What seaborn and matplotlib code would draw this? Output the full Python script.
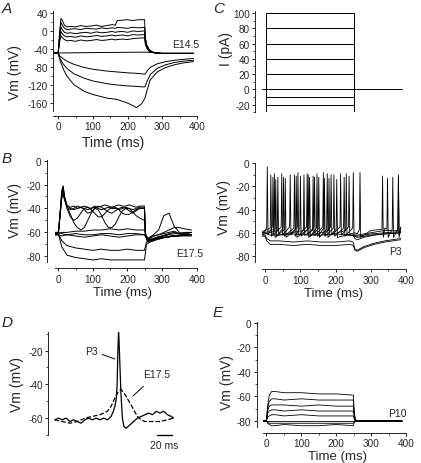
import numpy as np
import pandas as pd
import matplotlib
matplotlib.use('Agg')
import matplotlib.pyplot as plt
import seaborn as sns
from matplotlib.ticker import MultipleLocator

sns.set_style('ticks')
plt.rcParams['font.family'] = ['Liberation Sans', 'DejaVu Sans']
plt.rcParams['axes.unicode_minus'] = False

# ---------------- data ----------------
# A: E14.5, depolarising steps
a_dep_t = [-15, 0, 4, 8, 12, 18, 25, 35, 50, 65, 80, 95, 110, 125, 140, 155, 165, 170, 185, 200,
           215, 230, 249, 251, 255, 262, 270, 282, 300, 340, 390]
a_dep1 = [-50, -50, -5, 27, 22, 12, 8, 9, 8, 11, 9, 10, 12, 9, 11, 13, 12, 22, 23, 24,
          22, 24, 24, -15, -32, -42, -47, -50, -51, -51, -51]
a_dep2 = [-50, -50, -10, 18, 12, 5, 2, 3, 4, 2, 5, 4, 3, 6, 4, 6, 5, 7, 6, 5,
          7, 6, 7, -18, -33, -43, -47, -50, -51, -51, -51]
a_dep3 = [-50, -50, -15, 8, 2, -4, -6, -5, -7, -5, -4, -6, -3, -5, -4, -2, -4, -3, -2, -4,
          -1, -2, -1, -22, -35, -44, -48, -50, -51, -51, -51]
a_dep4 = [-50, -50, -20, -2, -8, -12, -14, -13, -15, -12, -14, -13, -11, -13, -12, -10, -12, -11, -10, -12,
          -9, -10, -9, -26, -37, -45, -48, -50, -51, -51, -51]
a_dep5 = [-50, -50, -25, -12, -16, -20, -23, -22, -24, -21, -23, -22, -20, -22, -21, -19, -21, -20, -19, -20,
          -18, -17, -16, -30, -39, -46, -49, -50, -51, -51, -51]
a_flat_t = [-15, 100, 250, 300, 390]
a_flat = [-50, -49, -48, -50, -50]
# A: hyperpolarising steps
a_hyp_t = [-15, 0, 5, 15, 25, 45, 75, 100, 140, 170, 200, 226, 240, 250, 256, 265, 285, 310, 335, 360, 390]
a_hyp1 = [-50, -50, -57, -63, -68, -75, -82, -86, -90, -92, -94, -95, -96, -97, -90, -82, -74, -69, -66, -64, -62]
a_hyp2 = [-50, -50, -62, -75, -84, -96, -106, -112, -118, -121, -123, -124, -125, -125, -113, -98, -84, -76, -71, -68, -66]
a_hyp3 = [-50, -50, -66, -86, -101, -120, -135, -142, -150, -153, -161, -171, -163, -150, -133, -110, -92, -82, -76, -72, -69]

# B: E17.5, suprathreshold traces
b_dep_t = [-10, 0, 5, 10, 14, 18, 25, 35, 45, 55, 65, 75, 85, 95, 105, 115, 125, 135, 145, 155,
           165, 175, 185, 195, 205, 215, 225, 235, 249, 252, 258, 265, 275, 290, 305, 320, 335, 350, 365, 385]
b_dep1 = [-61, -61, -45, -25, -21, -30, -37, -40, -41, -40, -39, -40, -41, -40, -39, -40, -41, -40, -39, -40,
          -40, -41, -40, -39, -40, -41, -40, -39, -39, -62, -67, -66, -65, -64, -63, -62, -63, -62, -61, -62]
b_dep2 = [-62, -62, -46, -28, -22, -30, -38, -45, -52, -56, -58, -56, -50, -44, -40, -41, -46, -52, -56, -56,
          -53, -47, -42, -40, -40, -43, -46, -48, -50, -63, -66, -64, -62, -58, -46, -44, -55, -60, -62, -62]
b_dep3 = [-60, -60, -44, -27, -23, -31, -40, -47, -50, -48, -44, -40, -39, -41, -44, -47, -47, -44, -41, -39,
          -39, -41, -44, -45, -45, -43, -41, -40, -40, -62, -66, -65, -63, -62, -60, -58, -56, -56, -57, -58]
b_dep4 = [-62, -62, -46, -30, -25, -32, -39, -41, -40, -38, -39, -41, -44, -43, -40, -38, -39, -41, -43, -44,
          -42, -40, -39, -40, -42, -44, -42, -40, -40, -63, -68, -67, -66, -64, -63, -61, -60, -61, -62, -60]
b_dep5 = [-61, -61, -47, -32, -28, -33, -38, -39, -38, -40, -39, -38, -39, -40, -38, -39, -38, -37, -38, -39,
          -38, -37, -38, -38, -37, -38, -39, -38, -38, -62, -66, -64, -63, -62, -61, -60, -59, -61, -60, -60]
# B: subthreshold / hyperpolarising traces
b_sub_t = [-10, 0, 10, 25, 50, 75, 100, 125, 150, 175, 200, 225, 249, 255, 265, 285, 310, 340, 385]
b_sub1 = [-61, -61, -60, -60, -59, -59, -58, -58, -57, -58, -57, -58, -58, -63, -66, -64, -62, -61, -60]
b_sub2 = [-60, -60, -61, -62, -61, -62, -62, -61, -61, -62, -61, -61, -62, -65, -68, -66, -64, -63, -62]
b_sub3 = [-62, -62, -63, -62, -63, -64, -63, -62, -63, -64, -63, -62, -62, -64, -67, -65, -64, -63, -62]
b_hyp1 = [-61, -61, -67, -71, -73, -74, -75, -74, -75, -75, -74, -75, -75, -68, -67, -65, -64, -63, -62]
b_hyp2 = [-61, -61, -72, -79, -81, -82, -83, -82, -83, -83, -83, -83, -83, -70, -68, -66, -64, -63, -63]

# C: current steps (pA)
c_levels = [100, 80, 60, 40, 20, -10, -20, -30]
c_on, c_off = 0, 250
c_zero_t = [-11, 387]

# C lower: P3, spiking traces (spike times, peak voltages) + envelope
p_s1_times = [6, 22, 47, 71, 93, 119, 140, 165, 187, 214, 238]
p_s1_peaks = [-3, -12, -9, -10, -8, -9, -12, -8, -10, -9, -11]
p_s2_times = [16, 30, 52, 83, 100, 126, 147, 168, 195, 224, 250]
p_s2_peaks = [-10, -14, -12, -10, -11, -12, -9, -13, -10, -12, -8]
p_s3_times = [26, 57, 88, 122, 152, 176, 203, 269, 333, 347, 362, 378]
p_s3_peaks = [-9, -13, -11, -10, -12, -9, -14, -8, -11, -13, -12, -11]
p_s4_times = [36, 110, 136, 181, 230, 378]
p_s4_peaks = [-12, -10, -11, -13, -9, -10]
p_pre_t = [-9, 0]
p_post_t = [255, 262, 300, 340, 385]
p_s1_pre, p_s1_post = [-60, -59], [-63, -64, -62, -61, -60]
p_s2_pre, p_s2_post = [-59, -58], [-62, -63, -61, -60, -59]
p_s3_pre, p_s3_post = [-61, -60], [-60, -61, -58, -56, -55]
p_s4_pre, p_s4_post = [-62, -61], [-62, -62, -60, -58, -56]
p_sub_t = [-9, 0, 5, 15, 40, 80, 120, 160, 200, 240, 250, 255, 262, 280, 310, 340, 385]
p_sub1 = [-62, -62, -65, -67, -67, -68, -67, -68, -68, -67, -68, -74, -75, -72, -69, -67, -65]
p_sub2 = [-63, -63, -67, -70, -70, -71, -70, -71, -71, -70, -71, -75, -76, -73, -70, -68, -66]
p_sub3 = [-60, -60, -61, -62, -62, -61, -62, -62, -61, -62, -62, -65, -66, -64, -62, -61, -60]

# D: single events
d_p3_t = [0, 5, 10, 15, 20, 25, 30, 35, 40, 45, 50, 55, 60, 65, 70, 75, 78, 80, 82, 83,
          84, 85, 86, 88, 90, 92, 95, 100, 105, 110, 115, 120, 125, 130, 135, 140, 145, 150, 155, 158]
d_p3_v = [-61, -60, -61, -60, -62, -61, -62, -63, -61, -60, -61, -60, -61, -60, -61, -59, -56, -53, -48, -40,
          -20, -8, -20, -45, -60, -65, -66, -64, -62, -60, -59, -58, -57, -58, -56, -57, -56, -58, -59, -60]
d_e17_t = [0, 10, 20, 30, 40, 50, 60, 70, 75, 80, 85, 88, 92, 96, 100, 105, 110, 115, 120, 130, 140, 150, 158]
d_e17_v = [-61, -62, -63, -62, -60, -59, -58, -56, -53, -48, -44, -43, -45, -48, -51, -55, -59, -61, -62, -62, -62, -61, -60]

# E: P10
e_t = [-10, 0, 3, 8, 15, 25, 50, 100, 150, 200, 249, 251, 254, 258, 265, 300, 388]
e_1 = [-80, -80, -68, -59, -56, -56, -57, -57, -58, -58, -59, -70, -78, -80, -80, -80, -80]
e_2 = [-80, -80, -70, -64, -62, -62, -63, -62, -63, -63, -63, -72, -79, -80, -80, -80, -80]
e_3 = [-80, -80, -72, -68, -67, -67, -67, -68, -67, -68, -68, -74, -79, -80, -80, -80, -80]
e_4 = [-80, -80, -74, -72, -71, -71, -72, -71, -72, -72, -72, -76, -79, -80, -80, -80, -80]
e_5 = [-80, -80, -77, -76, -75, -75, -76, -75, -76, -76, -76, -78, -80, -80, -80, -80, -80]
e_6 = [-80, -80, -81, -82, -82, -82, -82, -82, -82, -82, -82, -81, -80, -80, -80, -80, -80]
e_7 = [-80, -80, -82, -83, -84, -84, -83, -84, -84, -83, -84, -82, -80, -80, -80, -80, -80]
e_8 = [-80, -80, -80, -80, -80, -80, -80, -80, -80, -80, -80, -80, -80, -80, -80, -80, -80]


# ---------------- helpers ----------------
W, H = 421, 464
fig = plt.figure(figsize=(W / 100, H / 100), dpi=100)


def px_axes(left, top, right, bottom):
    return fig.add_axes([left / W, 1 - bottom / H, (right - left) / W, (bottom - top) / H])


def long_df(groups):
    # groups: list of (t, [series, ...])
    frames = []
    n = 0
    for t, series in groups:
        for v in series:
            frames.append(pd.DataFrame({'t': t, 'v': v, 'trace': n}))
            n += 1
    return pd.concat(frames, ignore_index=True)


def spike_path(pre_v, times, peaks, post_v, thr, ahp):
    t, v = list(p_pre_t), list(pre_v)
    for ts, pk in zip(times, peaks):
        t += [ts - 1.2, ts + 0.5, ts + 2.5]
        v += [thr, pk, ahp]
    t += list(p_post_t)
    v += list(post_v)
    order = np.argsort(t, kind='stable')
    return list(np.array(t)[order]), list(np.array(v)[order])


def draw(ax, df, lw=0.7, **kw):
    sns.lineplot(data=df, x='t', y='v', units='trace', estimator=None, sort=False,
                 color='black', lw=lw, legend=False, ax=ax, **kw)


def style(ax, xlim, ylim, ymaj, ymin, show_x=True, left_out=0, bottom_out=0):
    ax.set_xlim(*xlim)
    ax.set_ylim(*ylim)
    sns.despine(ax=ax)
    ax.yaxis.set_major_locator(MultipleLocator(ymaj))
    ax.yaxis.set_minor_locator(MultipleLocator(ymin))
    ax.tick_params(which='major', length=2.3, width=0.7, labelsize=7.2)
    ax.tick_params(axis='y', which='major', pad=1.5)
    ax.tick_params(axis='x', which='major', pad=1.8)
    ax.tick_params(which='minor', length=1.4, width=0.6)
    ax.spines['left'].set_linewidth(0.7)
    ax.spines['bottom'].set_linewidth(0.7)
    if left_out:
        ax.spines['left'].set_position(('outward', left_out * 0.72))
    if show_x:
        ax.xaxis.set_major_locator(MultipleLocator(100))
        ax.xaxis.set_minor_locator(MultipleLocator(50))
        if bottom_out:
            ax.spines['bottom'].set_position(('outward', bottom_out * 0.72))
    else:
        ax.spines['bottom'].set_visible(False)
        ax.set_xticks([])
        ax.xaxis.set_minor_locator(plt.NullLocator())
    ax.set_xlabel('')
    ax.set_ylabel('')
    ax.patch.set_alpha(0)


def ftext(x, y, s, **kw):
    fig.text(x / W, 1 - y / H, s, **kw)


def ylab(x, y, s):
    ftext(x, y, s, rotation=90, ha='center', va='center', fontsize=10)


def xlab(x, y, s, size=10):
    ftext(x, y, s, ha='center', va='center', fontsize=size)


def letter(x, y, s):
    ftext(x, y, s, ha='left', va='center', fontsize=11, style='italic')


# ---------------- panel A ----------------
axA = px_axes(53, 11.7, 197, 111.7)
draw(axA, long_df([(a_dep_t, [a_dep1, a_dep2, a_dep3, a_dep4, a_dep5]),
                   (a_flat_t, [a_flat]),
                   (a_hyp_t, [a_hyp1, a_hyp2, a_hyp3])]))
style(axA, (-15, 400), (-178, 44), 40, 20, bottom_out=5)
axA.text(329, -29, 'E14.5', fontsize=7.5, va='center', ha='left')
letter(2, 9, 'A')
ylab(15, 73, 'Vm (mV)')
xlab(113, 143.5, 'Time (ms)')

# ---------------- panel B ----------------
axB = px_axes(55, 161, 196.7, 263.3)
draw(axB, long_df([(b_dep_t, [b_dep1, b_dep2, b_dep3, b_dep4, b_dep5]),
                   (b_sub_t, [b_sub1, b_sub2, b_sub3, b_hyp1, b_hyp2])]))
style(axB, (-9.5, 400), (-85, 0.5), 20, 10, left_out=8.3, bottom_out=5.7)
axB.text(340, -77, 'E17.5', fontsize=7.5, va='center', ha='left')
letter(2, 159, 'B')
ylab(15, 211, 'Vm (mV)')
xlab(122, 293, 'Time (ms)', 9.5)

# ---------------- panel C (current) ----------------
axC = px_axes(255, 11.7, 410, 113.3)
c_groups = [([c_on, c_on, c_off, c_off], [[0, lv, lv, 0]]) for lv in c_levels]
c_groups.append((c_zero_t, [[0, 0]]))
draw(axC, long_df(c_groups))
style(axC, (-31, 409), (-30, 103), 20, 10, show_x=False)
letter(213, 9, 'C')
ylab(226, 49, 'I (pA)')

# ---------------- panel C lower (P3) ----------------
axP = px_axes(261.7, 163.7, 406, 263.3)
s1 = spike_path(p_s1_pre, p_s1_times, p_s1_peaks, p_s1_post, -55, -62)
s2 = spike_path(p_s2_pre, p_s2_times, p_s2_peaks, p_s2_post, -56, -63)
s3 = spike_path(p_s3_pre, p_s3_times, p_s3_peaks, p_s3_post, -57, -64)
s4 = spike_path(p_s4_pre, p_s4_times, p_s4_peaks, p_s4_post, -58, -62)
draw(axP, long_df([(s1[0], [s1[1]]), (s2[0], [s2[1]]), (s3[0], [s3[1]]), (s4[0], [s4[1]]),
                   (p_sub_t, [p_sub1, p_sub2, p_sub3])]), lw=0.6)
style(axP, (-9.4, 400), (-85.5, 0.5), 20, 10, left_out=6.7, bottom_out=6.7)
axP.text(352, -76, 'P3', fontsize=7.5, va='center', ha='left')
ylab(224, 208, 'Vm (mV)')
xlab(333, 294, 'Time (ms)', 9.5)

# ---------------- panel D ----------------
axD = px_axes(48, 333, 175, 436)
draw(axD, long_df([(d_p3_t, [d_p3_v])]), lw=0.9)
draw(axD, long_df([(d_e17_t, [d_e17_v])]), lw=0.9, linestyle='--')
style(axD, (-9, 160), (-70, -9), 20, 10, show_x=False)
axD.annotate('P3', xy=(80, -25), xytext=(57, -20), fontsize=7.5, ha='right', va='center',
             arrowprops=dict(arrowstyle='-', lw=0.7, color='black', shrinkA=1, shrinkB=0))
axD.annotate('E17.5', xy=(104, -47), xytext=(117, -34), fontsize=7.5, ha='left', va='center',
             arrowprops=dict(arrowstyle='-', lw=0.7, color='black', shrinkA=4, shrinkB=0))
axD.plot([136, 156], [-70, -70], color='black', lw=1.0, clip_on=False)
axD.text(146, -73, '20 ms', fontsize=7.5, ha='center', va='top')
letter(2, 323, 'D')
ylab(17, 385, 'Vm (mV)')

# ---------------- panel E ----------------
axE = px_axes(263, 322.8, 406, 428.3)
draw(axE, long_df([(e_t, [e_1, e_2, e_3, e_4, e_5, e_6, e_7, e_8])]), lw=0.6)
style(axE, (-10, 400), (-85.3, 1), 20, 10, left_out=6.3, bottom_out=5.2)
axE.text(348, -74, 'P10', fontsize=7.5, va='center', ha='left')
letter(213, 313, 'E')
ylab(227, 383, 'Vm (mV)')
xlab(337, 457, 'Time (ms)', 9.5)

fig.savefig('out.png', dpi=100)
